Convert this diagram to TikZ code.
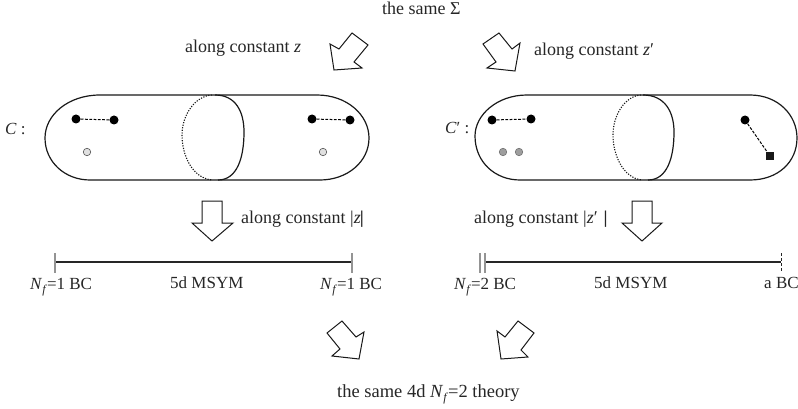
\documentclass[tikz,border=0pt]{standalone}
\usepackage{fontspec}
\setmainfont{Liberation Serif}
\newcommand{\Nf}{\textit{N}\raisebox{-0.55ex}{\fontsize{12}{12}\selectfont\textit{f}}}
\tikzset{
  txt/.style={inner sep=0pt,anchor=base west,font=\fontsize{18}{20}\selectfont,text=black!85},
  lbl/.style={inner sep=0pt,anchor=base west,font=\fontsize{17}{20}\selectfont,text=black!85},
  surf/.style={draw=black!90,line width=1.2pt},
  surfdot/.style={draw=black!90,line width=1.1pt,dash pattern=on 1.2pt off 1.4pt},
  bigarrow/.style={draw=black!90,line width=1pt,fill=white,line join=miter},
  ptblack/.style={circle,fill=black,inner sep=0pt,minimum size=9pt},
  ptsquare/.style={rectangle,fill=black!90,inner sep=0pt,minimum size=8.5pt},
  ptlight/.style={circle,draw=black!65,fill=black!12,line width=0.6pt,inner sep=0pt,minimum size=7.5pt},
  ptgray/.style={circle,draw=black!55,fill=black!38,line width=0.6pt,inner sep=0pt,minimum size=7.5pt},
  pairline/.style={dash pattern=on 2.8pt off 1.5pt,line width=1pt},
  barline/.style={draw=black!85,line width=1.2pt},
  barend/.style={draw=black!42,line width=2.2pt}
}
\begin{document}
\begin{tikzpicture}[x=1pt,y=-1pt]
\useasboundingbox (0,0) rectangle (798,409);
% texts
\node[txt] (t1) at (382,15) {the same Σ};
\node[txt] (t2) at (185,53) {along constant \textit{z}};
\node[txt] (t3) at (534,56) {along constant \textit{z}′};
\node[lbl] (t4) at (5,135) {\textit{C} :};
\node[lbl] (t5) at (445,134) {\textit{C}′ :};
\node[txt] (t6) at (241,223) {along constant |\textit{z}\hspace{-1pt}\textbf{|}};
\node[txt] (t7) at (474,223) {along constant |\textit{z}′\hspace{6pt}\textbf{|}};
\node[lbl] (t8) at (30,289) {\Nf=1 BC};
\node[lbl] (t9) at (170,288) {5d MSYM};
\node[lbl] (t10) at (320,289) {\Nf=1 BC};
\node[lbl] (t11) at (454,289) {\Nf=2 BC};
\node[lbl] (t12) at (594,288) {5d MSYM};
\node[lbl] (t13) at (764,288) {a BC};
\node[txt,font=\fontsize{18.5}{20}\selectfont] (t14) at (337,397) {the same 4d \Nf=2 theory};
% block arrows
\draw[bigarrow] (330,44)--(339,49)--(352,33)--(368,45)--(354,62)--(362,68)--(334,70)--cycle;
\draw[bigarrow] (483,44)--(499,33)--(512,49)--(520,43)--(515,71)--(487,68)--(496,62)--cycle;
\draw[bigarrow] (202,201)--(222,201)--(222,223)--(233,223)--(212,241)--(192,223)--(202,223)--cycle;
\draw[bigarrow] (632,201)--(652,201)--(652,223)--(662,223)--(642,241)--(622,223)--(632,223)--cycle;
\draw[bigarrow] (342,321)--(356,337)--(364,332)--(359,359)--(332,356)--(340,349)--(327,333)--cycle;
\draw[bigarrow] (518,321)--(534,333)--(521,350)--(528,357)--(501,359)--(497,331)--(505,337)--cycle;
% left surface
\draw[surf] (100,95)--(317,95) .. controls (347,95) and (369,115) .. (369,138)
  .. controls (369,162) and (347,180) .. (320,180) -- (90,180)
  .. controls (65,180) and (45,162) .. (45,138)
  .. controls (45,115) and (68,95) .. (100,95) -- cycle;
\draw[surf] (215,95) .. controls (236,95) and (244,112) .. (244,132)
  .. controls (244,158) and (237,180) .. (218,180);
\draw[surfdot] (212,95) .. controls (195,96) and (182,115) .. (182,135)
  .. controls (182,155) and (192,178) .. (212,180);
% right surface
\draw[surf] (527,95)--(750,95) .. controls (778,95) and (797,115) .. (797,138)
  .. controls (797,162) and (778,180) .. (750,180) -- (520,180)
  .. controls (495,180) and (475,162) .. (475,136)
  .. controls (475,115) and (497,95) .. (527,95) -- cycle;
\draw[surf] (643,95) .. controls (665,95) and (674,112) .. (674,132)
  .. controls (674,158) and (667,180) .. (648,180);
\draw[surfdot] (641,95) .. controls (625,96) and (613,115) .. (613,135)
  .. controls (613,155) and (623,178) .. (642,180);
% punctures
\node[ptblack] (a1) at (76,119) {};
\node[ptblack] (a2) at (114,120) {};
\node[ptblack] (a3) at (312,119) {};
\node[ptblack] (a4) at (350,120) {};
\node[ptlight] (g1) at (87,152) {};
\node[ptlight] (g2) at (323,152) {};
\node[ptblack] (b1) at (492,120) {};
\node[ptblack] (b2) at (531,119) {};
\node[ptblack] (b3) at (745,120) {};
\node[ptsquare] (b4) at (770,156) {};
\node[ptgray] (g3) at (503,152) {};
\node[ptgray] (g4) at (519,152) {};
\draw[pairline] (a1)--(a2);
\draw[pairline] (a3)--(a4);
\draw[pairline] (b1)--(b2);
\draw[pairline] (b3)--(b4);
% segments
\coordinate (l1) at (55,262); \coordinate (l2) at (352,262);
\coordinate (r1) at (486,262); \coordinate (r2) at (781,262);
\draw[barline] (l1)--(l2);
\draw[barline] (r1)--(r2);
\draw[barend] (55,253)--(55,273);
\draw[barend] (352,253)--(352,273);
\draw[barend] (480,253)--(480,273);
\draw[barend] (485,253)--(485,273);
\draw[black!85,line width=1pt,dash pattern=on 3pt off 2pt] (781,253)--(781,271);
\end{tikzpicture}
\end{document}
